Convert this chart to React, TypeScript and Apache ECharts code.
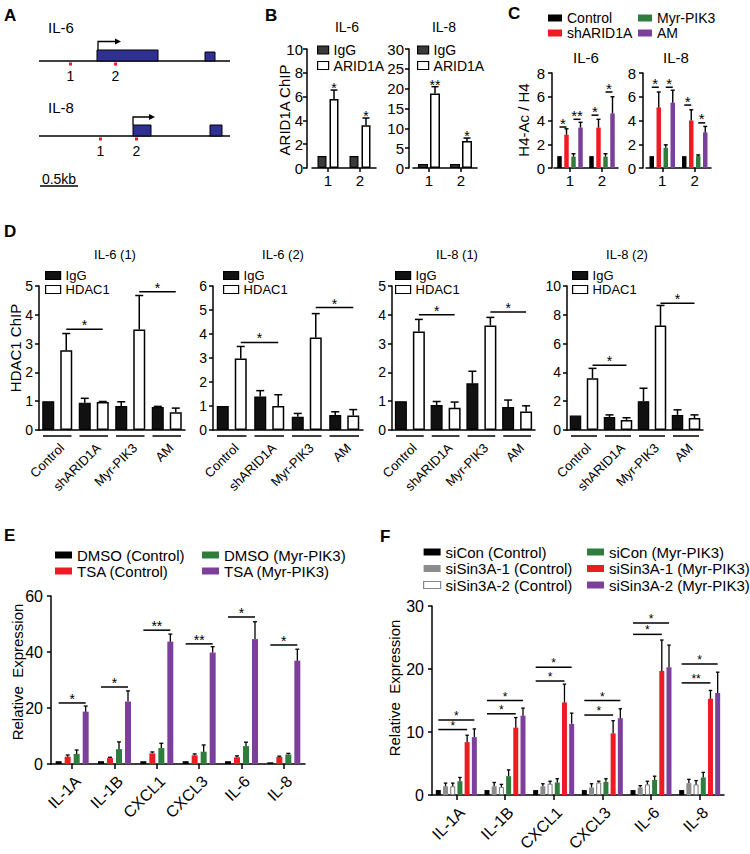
import React, { useEffect, useRef } from 'react';
import * as echarts from 'echarts';

const FONT = "'Liberation Sans', Arial, Helvetica, sans-serif";
const RED = '#ed1c24';
const GREEN = '#2e7d3c';
const PURPLE = '#7d3f9c';
const GRAY = '#8c8c8c';
const NAVY = '#2e3192';

// ---------- Panel B : ARID1A ChIP ----------
const bSites = ['1', '2'];
const bIL6IgG = [1.0, 1.0];
const bIL6ARID1A = [5.8, 3.6];
const bIL6ARID1AErr = [0.75, 0.6];
const bIL6Stars = ['*', '*'];
const bIL8IgG = [1.0, 1.0];
const bIL8ARID1A = [18.8, 6.8];
const bIL8ARID1AErr = [1.7, 0.75];
const bIL8Stars = ['**', '*'];

// ---------- Panel C : H4-Ac / H4 ----------
const cSites = ['1', '2'];
const cIL6Control = [1.0, 1.0];
const cIL6Sh = [2.8, 3.4];
const cIL6ShErr = [0.5, 0.7];
const cIL6Myr = [0.95, 0.95];
const cIL6MyrErr = [0.25, 0.25];
const cIL6AM = [3.4, 4.6];
const cIL6AMErr = [0.45, 1.4];
const cIL8Control = [1.0, 1.0];
const cIL8Sh = [5.1, 4.0];
const cIL8ShErr = [1.3, 0.9];
const cIL8Myr = [1.7, 1.0];
const cIL8MyrErr = [0.25, 0.1];
const cIL8AM = [5.5, 3.0];
const cIL8AMErr = [1.05, 0.5];

type Sig = { c1: number; a: number; c2: number; b: number; y: number; t: string };
const cIL6Sig: Sig[] = [
  { c1: 0, a: 0, c2: 0, b: 1, y: 3.45, t: '*' },
  { c1: 0, a: 2, c2: 0, b: 3, y: 4.1, t: '**' },
  { c1: 1, a: 0, c2: 1, b: 1, y: 4.45, t: '*' },
  { c1: 1, a: 2, c2: 1, b: 3, y: 6.4, t: '*' },
];
const cIL8Sig: Sig[] = [
  { c1: 0, a: 0, c2: 0, b: 1, y: 6.8, t: '*' },
  { c1: 0, a: 2, c2: 0, b: 3, y: 6.8, t: '*' },
  { c1: 1, a: 0, c2: 1, b: 1, y: 5.3, t: '*' },
  { c1: 1, a: 2, c2: 1, b: 3, y: 3.8, t: '*' },
];

// ---------- Panel D : HDAC1 ChIP ----------
const dGroups = ['Control', 'shARID1A', 'Myr-PIK3', 'AM'];
const dIL61IgG = [1.0, 0.95, 0.83, 0.8];
const dIL61IgGErr = [0, 0.15, 0.15, 0.02];
const dIL61HDAC1 = [2.77, 0.97, 3.49, 0.62];
const dIL61HDAC1Err = [0.58, 0.02, 1.18, 0.14];
const dIL62IgG = [1.0, 1.4, 0.55, 0.62];
const dIL62IgGErr = [0, 0.24, 0.14, 0.14];
const dIL62HDAC1 = [2.98, 1.0, 3.85, 0.6];
const dIL62HDAC1Err = [0.5, 0.47, 1.0, 0.25];
const dIL81IgG = [1.0, 0.87, 1.62, 0.8];
const dIL81IgGErr = [0, 0.12, 0.42, 0.24];
const dIL81HDAC1 = [3.42, 0.77, 3.63, 0.64];
const dIL81HDAC1Err = [0.42, 0.2, 0.28, 0.2];
const dIL82IgG = [1.0, 0.9, 2.0, 1.05];
const dIL82IgGErr = [0, 0.15, 0.9, 0.35];
const dIL82HDAC1 = [3.6, 0.7, 7.25, 0.83];
const dIL82HDAC1Err = [0.68, 0.15, 1.4, 0.22];
const dIL61Sig: Sig[] = [
  { c1: 0, a: 1, c2: 1, b: 1, y: 3.5, t: '*' },
  { c1: 2, a: 1, c2: 3, b: 1, y: 4.8, t: '*' },
];
const dIL62Sig: Sig[] = [
  { c1: 0, a: 1, c2: 1, b: 1, y: 3.65, t: '*' },
  { c1: 2, a: 1, c2: 3, b: 1, y: 5.1, t: '*' },
];
const dIL81Sig: Sig[] = [
  { c1: 0, a: 1, c2: 1, b: 1, y: 4.0, t: '*' },
  { c1: 2, a: 1, c2: 3, b: 1, y: 4.1, t: '*' },
];
const dIL82Sig: Sig[] = [
  { c1: 0, a: 1, c2: 1, b: 1, y: 4.5, t: '*' },
  { c1: 2, a: 1, c2: 3, b: 1, y: 8.8, t: '*' },
];

// ---------- Panel E : TSA ----------
const eGenes = ['IL-1A', 'IL-1B', 'CXCL1', 'CXCL3', 'IL-6', 'IL-8'];
const eDmsoCtrl = [1.0, 1.0, 1.0, 1.0, 1.0, 0.6];
const eTsaCtrl = [2.6, 2.1, 3.8, 3.1, 2.4, 2.5];
const eTsaCtrlErr = [0.6, 0.3, 0.5, 0.5, 0.5, 0.3];
const eDmsoMyr = [3.6, 5.3, 5.7, 4.4, 6.4, 3.4];
const eDmsoMyrErr = [1.4, 2.6, 1.7, 2.4, 1.4, 0.4];
const eTsaMyr = [18.7, 22.3, 43.7, 39.8, 44.6, 36.9];
const eTsaMyrErr = [2.0, 3.8, 2.7, 2.1, 6.2, 4.1];
const eSig: Sig[] = [
  { c1: 0, a: 0, c2: 0, b: 3, y: 21.8, t: '*' },
  { c1: 1, a: 0, c2: 1, b: 3, y: 27.5, t: '*' },
  { c1: 2, a: 0, c2: 2, b: 3, y: 47.8, t: '**' },
  { c1: 3, a: 0, c2: 3, b: 3, y: 42.9, t: '**' },
  { c1: 4, a: 0, c2: 4, b: 3, y: 52.5, t: '*' },
  { c1: 5, a: 0, c2: 5, b: 3, y: 42.5, t: '*' },
];

// ---------- Panel F : siSin3A ----------
const fGenes = ['IL-1A', 'IL-1B', 'CXCL1', 'CXCL3', 'IL-6', 'IL-8'];
const fSiConCtrl = [0.8, 0.8, 0.8, 0.8, 0.8, 0.8];
const fSin1Ctrl = [1.4, 1.4, 1.4, 1.2, 1.2, 1.9];
const fSin1CtrlErr = [0.5, 0.6, 0.4, 0.6, 0.3, 0.6];
const fSin2Ctrl = [1.4, 1.3, 1.8, 2.0, 1.7, 1.7];
const fSin2CtrlErr = [0.5, 0.4, 0.4, 0.2, 0.5, 0.6];
const fSiConMyr = [2.2, 3.0, 2.0, 2.1, 2.4, 2.8];
const fSiConMyrErr = [0.6, 1.0, 0.6, 0.5, 0.6, 0.8];
const fSin1Myr = [8.4, 10.7, 14.7, 9.8, 19.7, 15.3];
const fSin1MyrErr = [1.1, 1.6, 2.9, 2.0, 4.9, 1.3];
const fSin2Myr = [9.2, 12.6, 11.3, 12.2, 20.3, 16.2];
const fSin2MyrErr = [1.3, 1.2, 1.7, 1.5, 3.5, 3.3];
const fSig: Sig[] = [
  { c1: 0, a: 0, c2: 0, b: 4, y: 10.4, t: '*' },
  { c1: 0, a: 0, c2: 0, b: 5, y: 11.9, t: '*' },
  { c1: 1, a: 0, c2: 1, b: 4, y: 12.9, t: '*' },
  { c1: 1, a: 0, c2: 1, b: 5, y: 15.0, t: '*' },
  { c1: 2, a: 0, c2: 2, b: 4, y: 18.1, t: '*' },
  { c1: 2, a: 0, c2: 2, b: 5, y: 20.3, t: '*' },
  { c1: 3, a: 0, c2: 3, b: 4, y: 12.7, t: '*' },
  { c1: 3, a: 0, c2: 3, b: 5, y: 15.0, t: '*' },
  { c1: 4, a: 0, c2: 4, b: 4, y: 25.5, t: '*' },
  { c1: 4, a: 0, c2: 4, b: 5, y: 27.3, t: '*' },
  { c1: 5, a: 0, c2: 5, b: 4, y: 17.8, t: '**' },
  { c1: 5, a: 0, c2: 5, b: 5, y: 20.8, t: '*' },
];

// ---------- helpers ----------
const offs = (n: number, bw: number, gap: number) =>
  Array.from({ length: n }, (_, i) => (i - (n - 1) / 2) * (bw + gap));

function barS(name: string, gi: number, data: number[], bw: number, gap: number, color: string, border?: string, bwid = 1.2) {
  return {
    type: 'bar', name, xAxisIndex: gi, yAxisIndex: gi, data, barWidth: bw,
    barGap: (gap / bw) * 100 + '%', z: 2, silent: true,
    itemStyle: { color, borderColor: border || color, borderWidth: border ? bwid : 0 },
  };
}

function errS(gi: number, vals: number[], errs: number[], off: number, cap: number, lw = 1.4) {
  return {
    type: 'custom', xAxisIndex: gi, yAxisIndex: gi, silent: true, z: 3,
    data: vals.map((v, i) => [i, v, errs[i]]),
    renderItem: (_p: any, api: any) => {
      const e = api.value(2);
      if (!e) return { type: 'group', children: [] };
      const i = api.value(0), v = api.value(1);
      const a = api.coord([i, v]);
      const b = api.coord([i, v + e]);
      const x = a[0] + off;
      return {
        type: 'group',
        children: [
          { type: 'line', shape: { x1: x, y1: a[1], x2: x, y2: b[1] }, style: { stroke: '#000', lineWidth: lw } },
          { type: 'line', shape: { x1: x - cap / 2, y1: b[1], x2: x + cap / 2, y2: b[1] }, style: { stroke: '#000', lineWidth: lw } },
        ],
      };
    },
  };
}

function sigS(gi: number, sigs: Sig[], off: number[], fs: number) {
  return {
    type: 'custom', xAxisIndex: gi, yAxisIndex: gi, silent: true, z: 4,
    data: sigs.map((s) => [s.c1, s.y]),
    renderItem: (p: any, api: any) => {
      const s = sigs[p.dataIndex];
      const p1 = api.coord([s.c1, s.y]);
      const p2 = api.coord([s.c2, s.y]);
      const x1 = p1[0] + off[s.a];
      const x2 = p2[0] + off[s.b];
      const y = p1[1];
      return {
        type: 'group',
        children: [
          { type: 'line', shape: { x1, y1: y, x2, y2: y }, style: { stroke: '#000', lineWidth: 1.5 } },
          { type: 'text', x: (x1 + x2) / 2, y: y - 4, style: { text: s.t, fill: '#000', fontSize: fs, fontFamily: FONT, align: 'center', verticalAlign: 'middle' } },
        ],
      };
    },
  };
}

function starS(gi: number, vals: number[], errs: number[], stars: string[], off: number, fs: number) {
  return {
    type: 'custom', xAxisIndex: gi, yAxisIndex: gi, silent: true, z: 4,
    data: vals.map((v, i) => [i, v + errs[i]]),
    renderItem: (p: any, api: any) => {
      const c = api.coord([api.value(0), api.value(1)]);
      return { type: 'text', x: c[0] + off, y: c[1] - 2, style: { text: stars[p.dataIndex], fill: '#000', fontSize: fs, fontFamily: FONT, align: 'center', verticalAlign: 'middle' } };
    },
  };
}

function underS(gi: number, n: number) {
  return {
    type: 'custom', xAxisIndex: gi, yAxisIndex: gi, silent: true, z: 4,
    data: Array.from({ length: n }, (_, i) => [i, 0]),
    renderItem: (_p: any, api: any) => {
      const c = api.coord([api.value(0), 0]);
      const half = api.size([1, 0])[0] / 2 - 4;
      const y = c[1] + 6;
      return { type: 'line', shape: { x1: c[0] - half, y1: y, x2: c[0] + half, y2: y }, style: { stroke: '#000', lineWidth: 1.5 } };
    },
  };
}

function xCat(gi: number, data: string[], kind: 'B' | 'D' | 'E') {
  const base: any = {
    type: 'category', gridIndex: gi, data,
    axisLine: { show: true, onZero: false, lineStyle: { color: '#000', width: 1.5 } },
    splitLine: { show: false },
  };
  if (kind === 'B') {
    base.axisTick = { show: true, alignWithLabel: true, length: 4, lineStyle: { color: '#000', width: 1.5 } };
    base.axisLabel = { color: '#000', fontSize: 15, margin: 5, interval: 0, fontFamily: FONT };
  } else if (kind === 'D') {
    base.axisTick = { show: false };
    base.axisLabel = { color: '#000', fontSize: 13, margin: 11, interval: 0, rotate: 45, verticalAlign: 'top', fontFamily: FONT };
  } else {
    base.axisTick = { show: true, alignWithLabel: true, length: 5, lineStyle: { color: '#000', width: 1.5 } };
    base.axisLabel = { color: '#000', fontSize: 16, margin: 9, interval: 0, rotate: 45, verticalAlign: 'top', fontFamily: FONT };
  }
  return base;
}

function yVal(gi: number, max: number, interval: number, fs: number, margin: number, offset = 0) {
  return {
    type: 'value', gridIndex: gi, min: 0, max, interval, offset,
    axisLine: { show: true, lineStyle: { color: '#000', width: 1.5 } },
    axisTick: { show: true, length: 4, lineStyle: { color: '#000', width: 1.5 } },
    axisLabel: { color: '#000', fontSize: fs, margin, fontFamily: FONT },
    splitLine: { show: false },
  };
}

function legendBox(left: number, top: number, lh: number, fs: number, iw: number, ih: number, items: [string, string, string?][]) {
  return {
    orient: 'vertical', left, top, itemGap: 0, itemWidth: iw, itemHeight: ih, icon: 'rect',
    selectedMode: false, padding: 0,
    textStyle: { fontSize: fs, lineHeight: lh, color: '#000', fontFamily: FONT },
    data: items.map(([name, color, border]) => ({
      name,
      itemStyle: { color, borderColor: border || color, borderWidth: border ? 1.2 : 0 },
    })),
  };
}

function txt(x: number, y: number, text: string, size: number, opt: any = {}) {
  return {
    type: 'text', x, y, silent: true, rotation: opt.rot || 0,
    style: {
      text, fontSize: size, fontFamily: FONT, fill: '#000',
      align: opt.align || 'center', verticalAlign: 'middle',
      fontWeight: opt.bold ? 'bold' : 'normal',
    },
  };
}
const ln = (x1: number, y1: number, x2: number, y2: number, w = 1.3) => ({
  type: 'line', silent: true, shape: { x1, y1, x2, y2 }, style: { stroke: '#000', lineWidth: w },
});
const box = (x: number, y: number, w: number, h: number, fill: string, stroke = '#000') => ({
  type: 'rect', silent: true, shape: { x, y, width: w, height: h }, style: { fill, stroke, lineWidth: 1 },
});

function buildOption() {
  const grids = [
    { left: 312, top: 49, width: 64, height: 119 },
    { left: 413, top: 49, width: 64, height: 119 },
    { left: 554, top: 73, width: 64, height: 95 },
    { left: 646, top: 73, width: 65, height: 95 },
    { left: 39, top: 286, width: 146, height: 144 },
    { left: 213, top: 286, width: 150, height: 144 },
    { left: 392, top: 286, width: 143, height: 144 },
    { left: 567, top: 286, width: 136, height: 144 },
    { left: 51, top: 596, width: 254, height: 168 },
    { left: 432, top: 606, width: 292, height: 192 },
  ];

  const xAxis = [
    xCat(0, bSites, 'B'), xCat(1, bSites, 'B'),
    xCat(2, cSites, 'B'), xCat(3, cSites, 'B'),
    xCat(4, dGroups, 'D'), xCat(5, dGroups, 'D'), xCat(6, dGroups, 'D'), xCat(7, dGroups, 'D'),
    xCat(8, eGenes, 'E'), xCat(9, fGenes, 'E'),
  ];
  const yAxis = [
    yVal(0, 10, 2, 15, 4, 5), yVal(1, 30, 5, 15, 5, 4),
    yVal(2, 8, 2, 15, 7, 2), yVal(3, 8, 2, 15, 7, 3),
    yVal(4, 5, 1, 14, 6), yVal(5, 6, 1, 14, 6), yVal(6, 5, 1, 14, 6), yVal(7, 10, 2, 14, 6),
    yVal(8, 60, 20, 16, 8), yVal(9, 30, 10, 16, 8),
  ];

  const series: any[] = [];
  // B
  const oB = offs(2, 9, 3);
  series.push(barS('IgG', 0, bIL6IgG, 9, 3, '#3a3a3a', '#000'));
  series.push(barS('ARID1A', 0, bIL6ARID1A, 9, 3, '#fff', '#000', 1.5));
  series.push(errS(0, bIL6ARID1A, bIL6ARID1AErr, oB[1], 7, 1.5));
  series.push(starS(0, bIL6ARID1A, bIL6ARID1AErr, bIL6Stars, oB[1], 14));
  const oB2 = offs(2, 10, 2);
  series.push(barS('IgG', 1, bIL8IgG, 10, 2, '#3a3a3a', '#000'));
  series.push(barS('ARID1A', 1, bIL8ARID1A, 10, 2, '#fff', '#000', 1.5));
  series.push(errS(1, bIL8ARID1A, bIL8ARID1AErr, oB2[1], 7, 1.5));
  series.push(starS(1, bIL8ARID1A, bIL8ARID1AErr, bIL8Stars, oB2[1], 14));
  // C
  const oC = offs(4, 4.5, 2.5);
  const cSets: [number, number[], number[], number[], number[], number[], number[], number[], Sig[]][] = [
    [2, cIL6Control, cIL6Sh, cIL6ShErr, cIL6Myr, cIL6MyrErr, cIL6AM, cIL6AMErr, cIL6Sig],
    [3, cIL8Control, cIL8Sh, cIL8ShErr, cIL8Myr, cIL8MyrErr, cIL8AM, cIL8AMErr, cIL8Sig],
  ];
  cSets.forEach(([gi, ctl, sh, shE, myr, myrE, am, amE, sg]) => {
    series.push(barS('Control', gi, ctl, 4.5, 2.5, '#000'));
    series.push(barS('shARID1A', gi, sh, 4.5, 2.5, RED));
    series.push(barS('Myr-PIK3', gi, myr, 4.5, 2.5, GREEN));
    series.push(barS('AM', gi, am, 4.5, 2.5, PURPLE));
    series.push(errS(gi, sh, shE, oC[1], 4, 1.4));
    series.push(errS(gi, myr, myrE, oC[2], 4, 1.4));
    series.push(errS(gi, am, amE, oC[3], 4, 1.4));
    series.push(sigS(gi, sg, oC, 15));
  });
  // D
  const dSets: [number, number[], number[], number[], number[], Sig[], number, number][] = [
    [4, dIL61IgG, dIL61IgGErr, dIL61HDAC1, dIL61HDAC1Err, dIL61Sig, 12, 6],
    [5, dIL62IgG, dIL62IgGErr, dIL62HDAC1, dIL62HDAC1Err, dIL62Sig, 12, 6],
    [6, dIL81IgG, dIL81IgGErr, dIL81HDAC1, dIL81HDAC1Err, dIL81Sig, 12, 6],
    [7, dIL82IgG, dIL82IgGErr, dIL82HDAC1, dIL82HDAC1Err, dIL82Sig, 11.5, 5.5],
  ];
  dSets.forEach(([gi, igg, iggE, hd, hdE, sg, bw, gap]) => {
    const o = offs(2, bw, gap);
    series.push(barS('IgG', gi, igg, bw, gap, '#111', '#000'));
    series.push(barS('HDAC1', gi, hd, bw, gap, '#fff', '#000', 1.5));
    series.push(errS(gi, igg, iggE, o[0], 8, 1.5));
    series.push(errS(gi, hd, hdE, o[1], 8, 1.5));
    series.push(sigS(gi, sg, o, 14));
    series.push(underS(gi, dGroups.length));
  });
  // E
  const oE = offs(4, 6, 3);
  series.push(barS('DMSO (Control)', 8, eDmsoCtrl, 6, 3, '#000'));
  series.push(barS('TSA (Control)', 8, eTsaCtrl, 6, 3, RED));
  series.push(barS('DMSO (Myr-PIK3)', 8, eDmsoMyr, 6, 3, GREEN));
  series.push(barS('TSA (Myr-PIK3)', 8, eTsaMyr, 6, 3, PURPLE));
  series.push(errS(8, eTsaCtrl, eTsaCtrlErr, oE[1], 4, 1.3));
  series.push(errS(8, eDmsoMyr, eDmsoMyrErr, oE[2], 4, 1.3));
  series.push(errS(8, eTsaMyr, eTsaMyrErr, oE[3], 4, 1.3));
  series.push(sigS(8, eSig, oE, 14));
  // F
  const oF = offs(6, 5, 2.2);
  series.push(barS('siCon (Control)', 9, fSiConCtrl, 5, 2.2, '#000'));
  series.push(barS('siSin3A-1 (Control)', 9, fSin1Ctrl, 5, 2.2, GRAY));
  series.push(barS('siSin3A-2 (Control)', 9, fSin2Ctrl, 5, 2.2, '#fff', '#777', 1));
  series.push(barS('siCon (Myr-PIK3)', 9, fSiConMyr, 5, 2.2, GREEN));
  series.push(barS('siSin3A-1 (Myr-PIK3)', 9, fSin1Myr, 5, 2.2, RED));
  series.push(barS('siSin3A-2 (Myr-PIK3)', 9, fSin2Myr, 5, 2.2, PURPLE));
  series.push(errS(9, fSin1Ctrl, fSin1CtrlErr, oF[1], 3.5, 1.3));
  series.push(errS(9, fSin2Ctrl, fSin2CtrlErr, oF[2], 3.5, 1.3));
  series.push(errS(9, fSiConMyr, fSiConMyrErr, oF[3], 3.5, 1.3));
  series.push(errS(9, fSin1Myr, fSin1MyrErr, oF[4], 3.5, 1.3));
  series.push(errS(9, fSin2Myr, fSin2MyrErr, oF[5], 3.5, 1.3));
  series.push(sigS(9, fSig, oF, 12));

  const legend = [
    legendBox(317, 42.25, 15.5, 14, 11, 8, [['IgG', '#3a3a3a', '#000'], ['ARID1A', '#fff', '#000']]),
    legendBox(417, 42.25, 15.5, 14, 11, 8, [['IgG', '#3a3a3a', '#000'], ['ARID1A', '#fff', '#000']]),
    legendBox(548, 10.5, 15, 14, 14, 7, [['Control', '#000'], ['shARID1A', RED]]),
    legendBox(638, 10.5, 15, 14, 14, 7, [['Myr-PIK3', GREEN], ['AM', PURPLE]]),
    legendBox(45, 268.5, 14, 13, 15, 8, [['IgG', '#111', '#000'], ['HDAC1', '#fff', '#000']]),
    legendBox(223, 268.5, 14, 13, 15, 8, [['IgG', '#111', '#000'], ['HDAC1', '#fff', '#000']]),
    legendBox(395, 268.5, 14, 13, 15, 8, [['IgG', '#111', '#000'], ['HDAC1', '#fff', '#000']]),
    legendBox(572, 268.5, 14, 13, 15, 8, [['IgG', '#111', '#000'], ['HDAC1', '#fff', '#000']]),
    legendBox(55, 547, 16, 15, 17, 7, [['DMSO (Control)', '#000'], ['TSA (Control)', RED]]),
    legendBox(202, 547, 16, 15, 17, 7, [['DMSO (Myr-PIK3)', GREEN], ['TSA (Myr-PIK3)', PURPLE]]),
    legendBox(423, 543.75, 16.5, 15, 17, 7, [['siCon (Control)', '#000'], ['siSin3A-1 (Control)', GRAY], ['siSin3A-2 (Control)', '#fff', '#888']]),
    legendBox(587, 543.75, 16.5, 15, 17, 7, [['siCon (Myr-PIK3)', GREEN], ['siSin3A-1 (Myr-PIK3)', RED], ['siSin3A-2 (Myr-PIK3)', PURPLE]]),
  ];

  const graphic: any[] = [
    // panel letters
    txt(4, 15, 'A', 17, { align: 'left', bold: true }),
    txt(265, 15, 'B', 17, { align: 'left', bold: true }),
    txt(508, 13, 'C', 17, { align: 'left', bold: true }),
    txt(4, 231, 'D', 17, { align: 'left', bold: true }),
    txt(4, 535, 'E', 17, { align: 'left', bold: true }),
    txt(380, 536, 'F', 17, { align: 'left', bold: true }),
    // panel A schematic
    txt(48, 27, 'IL-6', 15, { align: 'left' }),
    ln(39, 61, 230, 61),
    box(97, 50, 61, 11, NAVY),
    box(205, 52, 10, 9, NAVY),
    { type: 'polyline', silent: true, shape: { points: [[98, 50], [98, 41.5], [116, 41.5]] }, style: { stroke: '#000', lineWidth: 1.3, fill: 'none' } },
    { type: 'polygon', silent: true, shape: { points: [[121, 41.5], [115, 38.5], [115, 44.5]] }, style: { fill: '#000' } },
    { type: 'rect', silent: true, shape: { x: 69, y: 62.5, width: 3, height: 3 }, style: { fill: RED } },
    { type: 'rect', silent: true, shape: { x: 114, y: 62.5, width: 3, height: 3 }, style: { fill: RED } },
    txt(70.5, 76, '1', 14),
    txt(115.5, 76, '2', 14),
    txt(48, 107, 'IL-8', 15, { align: 'left' }),
    ln(39, 136, 230, 136),
    box(133, 125, 18, 11, NAVY),
    box(210, 125, 12, 11, NAVY),
    { type: 'polyline', silent: true, shape: { points: [[133, 125], [133, 117], [150, 117]] }, style: { stroke: '#000', lineWidth: 1.3, fill: 'none' } },
    { type: 'polygon', silent: true, shape: { points: [[155, 117], [149, 114], [149, 120]] }, style: { fill: '#000' } },
    { type: 'rect', silent: true, shape: { x: 99, y: 137.5, width: 3, height: 3 }, style: { fill: RED } },
    { type: 'rect', silent: true, shape: { x: 135, y: 137.5, width: 3, height: 3 }, style: { fill: RED } },
    txt(100.5, 151, '1', 14),
    txt(136.5, 151, '2', 14),
    txt(59, 179, '0.5kb', 14),
    ln(40, 186, 78, 186),
    // chart titles
    txt(347, 27, 'IL-6', 14), txt(444, 27, 'IL-8', 14),
    txt(586, 57, 'IL-6', 15), txt(676, 57, 'IL-8', 15),
    txt(115, 254, 'IL-6 (1)', 13), txt(283, 254, 'IL-6 (2)', 13),
    txt(457, 254, 'IL-8 (1)', 13), txt(627, 254, 'IL-8 (2)', 13),
    // axis titles
    txt(284, 110, 'ARID1A ChIP', 15, { rot: Math.PI / 2 }),
    txt(523, 120, 'H4-Ac / H4', 15, { rot: Math.PI / 2 }),
    txt(15, 348, 'HDAC1 ChIP', 15, { rot: Math.PI / 2 }),
    txt(17, 672, 'Relative  Expression', 15, { rot: Math.PI / 2 }),
    txt(394, 688, 'Relative  Expression', 15, { rot: Math.PI / 2 }),
  ];

  return {
    animation: false,
    backgroundColor: '#fff',
    textStyle: { fontFamily: FONT },
    grid: grids.map((g) => ({ ...g, containLabel: false })),
    xAxis, yAxis, legend, series, graphic,
  };
}

export default function App() {
  const ref = useRef<HTMLDivElement>(null);
  useEffect(() => {
    const chart = echarts.init(ref.current as HTMLDivElement, undefined, { renderer: 'svg' });
    chart.setOption(buildOption() as any);
    return () => chart.dispose();
  }, []);
  return (
    <div
      ref={ref}
      style={{ position: 'absolute', left: 0, top: 0, width: 750, height: 854, background: '#fff' }}
    />
  );
}
